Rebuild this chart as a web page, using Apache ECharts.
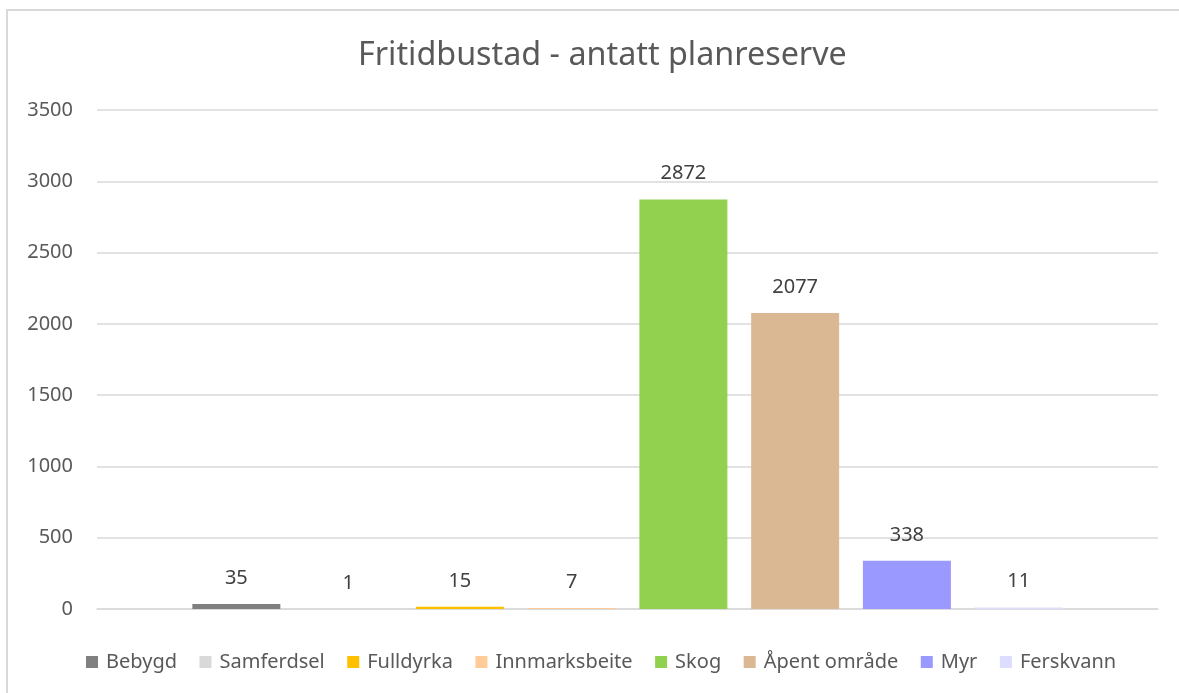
<!DOCTYPE html>
<html>
<head>
<meta charset="utf-8">
<script src="https://cdn.jsdelivr.net/npm/echarts@6/dist/echarts.min.js"></script>
<style>
html,body{margin:0;padding:0;background:#fff;}
#c{width:1179px;height:693px;}
</style>
</head>
<body>
<div id="c"></div>
<script>
const seriesNames = ['Bebygd', 'Samferdsel', 'Fulldyrka', 'Innmarksbeite', 'Skog', 'Åpent område', 'Myr', 'Ferskvann'];
const seriesValues = [35, 1, 15, 7, 2872, 2077, 338, 11];
const seriesColors = ['#808080', '#d9d9d9', '#ffc000', '#ffcc99', '#92d050', '#dbb894', '#9999ff', '#ddddff'];
const categories = [''];
const yTicks = {min: 0, max: 3500, interval: 500};
const titleText = 'Fritidbustad - antatt planreserve';

const FONT = '"Noto Sans", sans-serif';
const chart = echarts.init(document.getElementById('c'), null, {renderer: 'canvas'});

const series = seriesNames.map((name, i) => ({
  name: name,
  type: 'bar',
  data: [seriesValues[i]],
  barWidth: 88,
  barGap: '27%',
  itemStyle: {color: seriesColors[i]},
  label: {
    show: true,
    position: 'top',
    distance: 16,
    color: '#404040',
    fontFamily: FONT,
    fontSize: 20
  }
}));

chart.setOption({
  animation: false,
  backgroundColor: '#fff',
  graphic: [{
    type: 'rect',
    shape: {x: 7, y: 10, width: 1200, height: 720},
    style: {fill: 'none', stroke: '#d9d9d9', lineWidth: 2},
    silent: true
  }],
  title: {
    text: titleText,
    left: 353,
    top: 35,
    textStyle: {fontFamily: FONT, fontSize: 32.3, fontWeight: 'normal', color: '#595959'}
  },
  legend: {
    bottom: 16,
    left: 81,
    itemWidth: 12,
    itemHeight: 12,
    itemGap: 22.5,
    icon: 'rect',
    textStyle: {fontFamily: FONT, fontSize: 20, color: '#595959', padding: [0, 0, 0, 3]},
    data: seriesNames
  },
  grid: {left: 97, right: 21, top: 110, bottom: 84, containLabel: false},
  xAxis: {
    type: 'category',
    data: categories,
    axisLine: {show: true, lineStyle: {color: '#d9d9d9', width: 1.5}},
    axisTick: {show: false},
    axisLabel: {show: false}
  },
  yAxis: {
    type: 'value',
    min: yTicks.min,
    max: yTicks.max,
    interval: yTicks.interval,
    axisLine: {show: false},
    axisTick: {show: false},
    axisLabel: {color: '#595959', fontFamily: FONT, fontSize: 20, margin: 24, formatter: v => String(v)},
    splitLine: {lineStyle: {color: '#d9d9d9', width: 1.5}}
  },
  series: series
});
</script>
</body>
</html>
